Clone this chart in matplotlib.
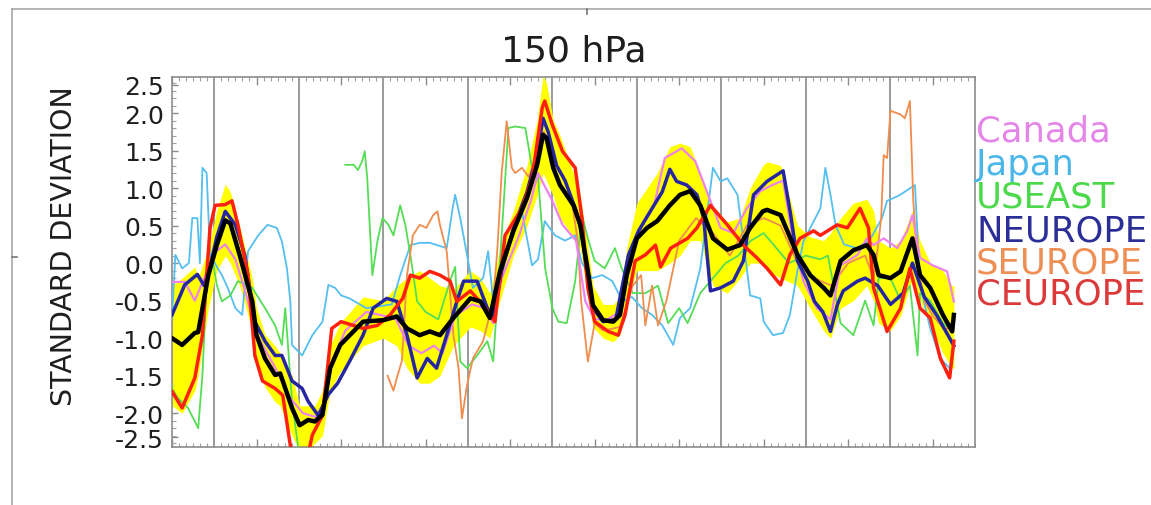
import numpy as np
import matplotlib
matplotlib.use("Agg")
import matplotlib.pyplot as plt
from matplotlib.ticker import MultipleLocator, NullFormatter
from matplotlib.lines import Line2D

plt.rcParams['font.family'] = ['DejaVu Sans']
plt.rcParams['axes.unicode_minus'] = False

# ---------------- data (time in years from start, values in standard deviations) ----------
t_mean = [0, 0.12, 0.27, 0.31, 0.43, 0.53, 0.63, 0.69, 0.80, 0.95, 1.0, 1.1, 1.22, 1.28, 1.42,
          1.51, 1.61, 1.69, 1.78, 1.87, 1.99, 2.26, 2.5, 2.66, 2.78, 2.93, 3.05, 3.17, 3.33, 3.53,
          3.65, 3.76, 3.88, 4.04, 4.2, 4.32, 4.39, 4.43, 4.51, 4.59, 4.75, 4.83, 4.91, 4.98, 5.1,
          5.22, 5.3, 5.38, 5.5, 5.62, 5.74, 5.89, 6.01, 6.13, 6.25, 6.4, 6.57, 6.72, 6.84, 6.99,
          7.04, 7.2, 7.4, 7.55, 7.71, 7.79, 7.91, 8.06, 8.22, 8.3, 8.36, 8.5, 8.62, 8.76, 8.85,
          8.97, 9.12, 9.23, 9.25]
mean = [-1.0, -1.09, -0.93, -0.92, -0.16, 0.24, 0.57, 0.53, 0.11, -0.51, -0.96, -1.27, -1.49,
        -1.47, -1.93, -2.16, -2.09, -2.11, -2.02, -1.40, -1.09, -0.78, -0.76, -0.71, -0.87, -0.96,
        -0.91, -0.96, -0.73, -0.47, -0.51, -0.73, -0.11, 0.43, 0.87, 1.31, 1.71, 1.67, 1.27, 1.04,
        0.77, 0.51, -0.03, -0.56, -0.76, -0.78, -0.69, -0.16, 0.33, 0.47, 0.56, 0.77, 0.91, 0.96,
        0.77, 0.33, 0.18, 0.24, 0.47, 0.69, 0.71, 0.64, 0.11, -0.16, -0.33, -0.43, 0.03, 0.17,
        0.24, 0.11, -0.16, -0.2, -0.11, 0.33, -0.16, -0.33, -0.69, -0.91, -0.69]
band_upper = [-0.3, -0.2, -0.05, -0.2, 0.2, 0.7, 1.05, 0.95, 0.5, -0.2, -0.6, -0.95, -1.1, -1.2,
              -1.5, -1.9, -1.9, -1.9, -1.7, -1.1, -0.8, -0.45, -0.5, -0.3, -0.2, -0.1, -0.2, -0.3,
              -0.35, -0.1, -0.2, -0.4, 0.2, 0.7, 1.3, 1.9, 2.5, 2.4, 1.9, 1.7, 1.2, 0.9, 0.3, -0.3,
              -0.55, -0.55, -0.45, 0.2, 0.8, 1.0, 1.2, 1.55, 1.6, 1.55, 1.2, 0.75, 0.55, 0.6, 1.0,
              1.3, 1.35, 1.3, 0.5, 0.35, 0.3, 0.4, 0.6, 0.8, 0.85, 0.7, 0.3, 0.2, 0.3, 0.7, 0.3,
              0.0, -0.1, -0.3, -0.3]
band_lower = [-1.9, -2.0, -1.7, -1.5, -0.6, -0.1, 0.1, 0.0, -0.3, -0.9, -1.3, -1.65, -1.85, -1.9,
              -2.3, -2.5, -2.5, -2.4, -2.3, -1.7, -1.45, -1.1, -1.0, -1.1, -1.4, -1.6, -1.6, -1.5,
              -1.1, -0.85, -0.9, -1.0, -0.5, 0.1, 0.5, 0.9, 1.2, 1.1, 0.9, 0.6, 0.35, 0.2, -0.4,
              -0.85, -1.0, -1.05, -0.95, -0.5, -0.1, -0.1, -0.1, 0.0, 0.1, 0.3, 0.3, -0.3, -0.4,
              -0.2, 0.0, 0.0, -0.1, -0.2, -0.3, -0.6, -0.9, -1.0, -0.6, -0.5, -0.3, -0.5, -0.8,
              -0.9, -0.7, -0.2, -0.5, -0.8, -1.2, -1.4, -1.4]

t_canada = [0, 0.15, 0.27, 0.4, 0.51, 0.63, 0.75, 0.86, 1.0, 1.2, 1.4, 1.55, 1.7, 1.8, 1.9, 2.05,
            2.3, 2.5, 2.65, 2.8, 2.95, 3.1, 3.2, 3.35, 3.55, 3.7, 3.8, 3.9, 4.1, 4.25, 4.33, 4.5,
            4.62, 4.78, 4.89, 5.0, 5.15, 5.3, 5.38, 5.5, 5.6, 5.7, 5.83, 6.03, 6.19, 6.37, 6.49,
            6.64, 6.8, 6.96, 7.1, 7.23, 7.35, 7.47, 7.63, 7.79, 7.91, 8.11, 8.22, 8.3, 8.42, 8.58,
            8.7, 8.76, 8.85, 9.0, 9.17, 9.25]
canada = [-0.25, -0.25, -0.5, -0.15, 0.15, 0.25, 0.05, -0.35, -0.95, -1.35, -1.8, -2.0, -2.05,
          -1.9, -1.3, -0.9, -0.65, -0.7, -0.75, -1.1, -1.2, -1.1, -1.2, -0.7, -0.55, -0.6, -0.8,
          -0.2, 0.35, 0.85, 1.2, 0.83, 0.51, 0.3, -0.51, -0.75, -0.75, -0.65, -0.2, 0.35, 0.6,
          0.75, 1.4, 1.53, 1.36, 0.83, 0.47, 0.4, 0.73, 0.96, 1.04, 1.1, 0.29, -0.24, -0.6, -0.75,
          -0.03, 0.11, 0.33, 0.24, 0.33, 0.2, 0.43, 0.64, 0.07, -0.03, -0.11, -0.51]

t_japan = [0, 0.04, 0.12, 0.2, 0.24, 0.3, 0.33, 0.36, 0.41, 0.45, 0.49, 0.59, 0.66, 0.75, 0.83,
           0.9, 1.02, 1.13, 1.24, 1.3, 1.36, 1.4, 1.42, 1.54, 1.66, 1.78, 1.85, 1.93, 2.0, 2.1,
           2.3, 2.6, 2.7, 2.82, 2.93, 3.05, 3.25, 3.32, 3.35, 3.41, 3.49, 3.56, 3.68, 3.74, 3.8,
           3.95, 4.06, 4.14, 4.26, 4.33, 4.41, 4.53, 4.65, 4.77, 4.85, 4.97, 5.09, 5.21, 5.33,
           5.44, 5.56, 5.68, 5.8, 5.93, 6.01, 6.13, 6.25, 6.4, 6.49, 6.57, 6.69, 6.76, 6.84, 6.96,
           7.0, 7.11, 7.23, 7.31, 7.4, 7.47, 7.67, 7.73, 7.79, 7.85, 7.95, 8.1, 8.25, 8.4, 8.46,
           8.6, 8.79, 8.85, 8.97, 9.09, 9.2, 9.25]
japan = [-0.73, 0.11, -0.07, 0.0, 0.6, 0.6, 0.0, 1.27, 1.2, 0.11, 0.03, -0.16, -0.33, -0.6, -0.69,
         0.16, 0.37, 0.51, 0.47, 0.29, -0.07, -0.51, -1.09, -1.23, -0.96, -0.78, -0.29, -0.33,
         -0.43, -0.47, -0.6, -0.55, -0.16, 0.24, 0.27, 0.27, 0.2, 0.73, 0.91, 0.6, 0.11, -0.33,
         -0.2, 0.16, -0.51, 0.1, 0.6, 0.69, -0.03, 0.05, 0.56, 0.37, 0.3, 0.37, 0.0, -0.2, -0.16,
         -0.24, -0.51, -0.45, -0.6, -0.69, -0.83, -1.09, -0.73, -0.6, -0.07, 1.27, 1.09, 1.13,
         0.91, 0.29, -0.43, -0.47, -0.78, -0.96, -0.93, -0.69, -0.1, 0.29, 0.73, 1.27, 0.91, 0.51,
         0.25, 0.2, 0.3, 0.6, 0.83, 0.9, 1.04, -0.29, -0.87, -1.27, -1.4, -1.1]

t_useast = [0, 0.07, 0.19, 0.31, 0.36, 0.41, 0.47, 0.53, 0.59, 0.69, 0.78, 0.95, 1.1, 1.22, 1.3,
            1.34, 1.42, 1.49, 1.52, 1.53, 2.05, 2.15, 2.2, 2.25, 2.28, 2.31, 2.37, 2.43, 2.49,
            2.56, 2.62, 2.7, 2.76, 2.82, 2.9, 3.0, 3.15, 3.3, 3.35, 3.41, 3.49, 3.61, 3.73, 3.8,
            3.9, 3.98, 4.06, 4.18, 4.26, 4.33, 4.415, 4.5, 4.57, 4.67, 4.77, 4.85, 4.92, 5.0,
            5.12, 5.24, 5.32, 5.45, 5.6, 5.75, 5.87, 6.0, 6.1, 6.25, 6.4, 6.55, 6.7, 6.85, 7.0,
            7.15, 7.3, 7.5, 7.67, 7.76, 7.91, 8.06, 8.2, 8.3, 8.36, 8.5, 8.62, 8.73, 8.82, 8.85,
            8.97, 9.12, 9.23]
useast = [-1.67, -1.8, -1.93, -2.2, -1.49, -0.24, 0.11, -0.29, -0.51, -0.43, -0.24, -0.33, -0.6,
          -0.83, -1.09, -0.6, -1.84, -2.43, -2.7, np.nan, 1.31, 1.31, 1.24, 1.36, 1.49, 1.13,
          -0.16, 0.29, 0.6, 0.51, 0.37, 0.77, 0.51, 0.11, -0.51, -0.65, -0.75, -0.2, -0.05, -1.31,
          -1.4, -1.23, -1.04, -1.31, 0.37, 1.8, 1.82, 1.8, 1.27, 1.15, -0.07, -0.6, -0.78, -0.8,
          -0.24, 0.64, 0.33, 0.03, -0.07, 0.2, -0.07, -0.4, -0.4, -0.3, -0.8, -0.6, -0.8, -0.4,
          -0.2, 0.0, 0.1, 0.3, 0.4, 0.2, 0.0, 0.1, 0.05, 0.1, -0.8, -0.96, -0.5, -0.83, -0.2,
          -0.2, -0.5, -0.3, -1.23, -0.4, -0.5, -0.8, -0.9]

t_neurope = [0, 0.15, 0.3, 0.38, 0.45, 0.53, 0.63, 0.75, 0.86, 0.98, 1.1, 1.22, 1.3, 1.42, 1.54,
             1.61, 1.73, 1.85, 1.96, 2.1, 2.26, 2.38, 2.54, 2.66, 2.78, 2.9, 3.02, 3.13, 3.25,
             3.37, 3.45, 3.61, 3.73, 3.8, 3.9, 4.05, 4.2, 4.32, 4.39, 4.45, 4.55, 4.65, 4.78,
             4.85, 4.9, 4.98, 5.1, 5.25, 5.4, 5.52, 5.68, 5.8, 5.89, 5.97, 6.09, 6.21, 6.29, 6.37,
             6.49, 6.64, 6.76, 6.88, 7.04, 7.23, 7.32, 7.4, 7.52, 7.6, 7.7, 7.79, 7.87, 7.94, 8.11,
             8.2, 8.35, 8.5, 8.65, 8.76, 8.9, 9.05, 9.25]
neurope = [-0.69, -0.29, -0.15, -0.3, -0.05, 0.35, 0.69, 0.51, 0.11, -0.78, -1.04, -1.23, -1.23,
           -1.57, -1.67, -1.84, -2.03, -1.75, -1.6, -1.31, -0.96, -0.6, -0.47, -0.51, -0.96,
           -1.53, -1.27, -1.4, -0.96, -0.51, -0.24, -0.24, -0.6, -0.73, -0.1, 0.5, 0.95, 1.45,
           1.93, 1.75, 1.3, 1.1, 0.7, 0.4, -0.07, -0.6, -0.78, -0.75, 0.11, 0.43, 0.73, 0.95,
           1.25, 1.09, 1.04, 0.91, 0.6, -0.37, -0.33, -0.24, 0.03, 0.91, 1.09, 1.23, 0.64, 0.03,
           -0.24, -0.51, -0.65, -0.91, -0.56, -0.37, -0.24, -0.2, -0.3, -0.55, -0.4, 0.0, -0.45,
           -0.7, -1.1]

t_seurope = [2.55, 2.62, 2.66, 2.72, 2.78, 2.85, 2.93, 3.01, 3.09, 3.14, 3.17, 3.25, 3.33, 3.39,
             3.43, 3.49, 3.56, 3.68, 3.8, 3.85, 3.9, 3.96, 4.02, 4.06, 4.14, 4.22, 4.3, 4.4, 4.5,
             4.6, 4.72, 4.8, 4.84, 4.92, 5.0, 5.1, 5.3, 5.45, 5.55, 5.6, 5.68, 5.75, 5.85, 6.0,
             6.2, 6.4, 6.6, 6.8, 7.0, 7.2, 7.4, 7.6, 7.8, 8.0, 8.2, 8.3, 8.35, 8.39, 8.42, 8.46,
             8.5, 8.62, 8.67, 8.73, 8.77, 8.82, 8.9, 9.0, 9.15, 9.25]
seurope = [-1.5, -1.7, -1.53, -1.3, -0.16, 0.37, 0.51, 0.47, 0.64, 0.69, 0.51, 0.16, -0.96, -1.4,
           -2.07, -1.63, -1.27, -1.04, -0.51, 0.2, 1.2, 1.89, 1.27, 1.2, 1.27, 1.15, 1.4, 1.75,
           1.4, 1.2, 0.9, 0.3, -0.5, -1.31, -0.8, -0.9, -0.85, -0.3, -0.16, -0.83, -0.3, -0.83,
           -0.5, 0.3, 0.6, 0.4, 0.1, 0.5, 0.6, 0.5, 0.0, -0.2, -0.3, 0.0, 0.1, -0.2, 0.2, 0.6,
           1.44, 1.4, 2.03, 1.98, 1.93, 2.16, 0.83, 0.0, -0.5, -0.7, -0.9, -0.75]

t_ceurope = [0, 0.12, 0.27, 0.36, 0.45, 0.51, 0.63, 0.71, 0.78, 0.9, 0.98, 1.07, 1.22, 1.31, 1.4,
             1.48, 1.58, 1.66, 1.78, 1.89, 2.0, 2.26, 2.43, 2.58, 2.73, 2.82, 2.93, 3.05, 3.17,
             3.29, 3.37, 3.53, 3.68, 3.82, 3.94, 4.14, 4.26, 4.38, 4.41, 4.5, 4.62, 4.77, 4.85,
             4.92, 5.0, 5.16, 5.28, 5.36, 5.48, 5.6, 5.72, 5.78, 5.9, 6.1, 6.21, 6.37, 6.57, 6.76,
             6.92, 7.04, 7.2, 7.31, 7.43, 7.59, 7.67, 7.87, 7.99, 8.14, 8.24, 8.3, 8.46, 8.62,
             8.73, 8.85, 8.97, 9.09, 9.2, 9.25]
ceurope = [-1.71, -1.93, -1.53, -0.96, 0.47, 0.77, 0.78, 0.83, 0.51, -0.16, -1.23, -1.57, -1.67,
           -1.76, -2.43, -2.8, -2.7, -2.29, -2.03, -0.87, -0.78, -0.87, -0.83, -0.69, -0.47,
           -0.16, -0.2, -0.11, -0.16, -0.24, -0.51, -0.37, -0.56, -0.78, 0.37, 0.73, 1.13, 2.07,
           2.16, 1.84, 1.49, 1.27, 0.6, -0.33, -0.78, -0.91, -0.96, -0.69, 0.03, 0.11, 0.24,
           -0.05, 0.2, 0.33, 0.47, 0.77, 0.51, 0.24, 0.07, -0.07, -0.29, 0.11, 0.33, 0.43, 0.37,
           0.51, 0.47, 0.73, 0.47, -0.33, -0.91, -0.6, -0.07, -0.6, -0.73, -1.27, -1.53, -1.04]

section_bounds = [0.5, 1.5, 2.5, 3.5, 4.5, 5.5, 6.5, 7.5, 8.5]
y_tick_labels = ['2.5', '2.0', '1.5', '1.0', '0.5', '0.0', '-0.5', '-1.0', '-1.5', '-2.0', '-2.5']

series_names = ['Canada', 'Japan', 'USEAST', 'NEUROPE', 'SEUROPE', 'CEUROPE']
series_colors = ['#EE82EE', '#55BFEF', '#55DD55', '#2626A0', '#F08C4C', '#FF2010']
label_colors = ['#E486E8', '#4BB7E8', '#4CD94C', '#2A2E96', '#EE8F55', '#DC3A3A']

# ---------------- figure ----------------
W, H = 1151, 506
fig = plt.figure(figsize=(W / 100, H / 100), dpi=100)
fig.patch.set_facecolor('white')

# outer frame (partially visible box)
frame_col = '#A8A8A8'
fig.add_artist(Line2D([12 / W, 1.0], [1 - 10 / H, 1 - 10 / H], transform=fig.transFigure,
                      color=frame_col, lw=1.2))
fig.add_artist(Line2D([12 / W, 12 / W], [1 - 10 / H, 0.0], transform=fig.transFigure,
                      color=frame_col, lw=1.2))
fig.add_artist(Line2D([12 / W, 17 / W], [1 - 258 / H, 1 - 258 / H], transform=fig.transFigure,
                      color='#777777', lw=1.2))
fig.add_artist(Line2D([587 / W, 587 / W], [1 - 10 / H, 1 - 15 / H], transform=fig.transFigure,
                      color='#777777', lw=1.2))

ax = fig.add_axes([172 / W, 1 - 448 / H, (975 - 172) / W, (448 - 78) / H])
ax.set_xlim(0, 9.5)
y_lo, y_hi = -2.45, 2.48
ax.set_ylim(y_lo, y_hi)

for xb in section_bounds:
    ax.axvline(xb, color='#9A9A9A', lw=1.4, zorder=1)

ax.fill_between(t_mean, band_lower, band_upper, color='#FFFF00', lw=0, zorder=2)

widths = {'Canada': 1.6, 'Japan': 1.3, 'USEAST': 1.3, 'NEUROPE': 2.5, 'SEUROPE': 1.3,
          'CEUROPE': 2.5}
data = {'Canada': (t_canada, canada), 'Japan': (t_japan, japan), 'USEAST': (t_useast, useast),
        'NEUROPE': (t_neurope, neurope), 'SEUROPE': (t_seurope, seurope),
        'CEUROPE': (t_ceurope, ceurope)}
order = ['Japan', 'USEAST', 'SEUROPE', 'Canada', 'NEUROPE', 'CEUROPE']
for z, name in enumerate(order):
    i = series_names.index(name)
    tx, vy = data[name]
    ax.plot(tx, vy, color=series_colors[i], lw=widths[name], zorder=3 + z,
            solid_joinstyle='round')

ax.plot(t_mean, mean, color='black', lw=3.2, zorder=20, solid_joinstyle='round')

for sp in ax.spines.values():
    sp.set_color('#8C8C8C')
    sp.set_linewidth(1.2)

# tick labels: the end labels sit just inside the axis limits, as in the original plot
tick_vals = [float(s) for s in y_tick_labels]
tick_pos = [min(max(v, y_lo + 0.13), y_hi - 0.1) for v in tick_vals]
ax.set_yticks(tick_pos)
ax.set_yticklabels(y_tick_labels)
ax.yaxis.set_minor_locator(MultipleLocator(0.1))
ax.xaxis.set_major_locator(MultipleLocator(1.0))
ax.xaxis.set_minor_locator(MultipleLocator(1 / 12))
ax.xaxis.set_major_formatter(NullFormatter())
ax.tick_params(axis='y', which='major', direction='in', length=4, width=1, color='#8C8C8C',
               labelsize=18, pad=6, left=True, right=False)
ax.tick_params(axis='y', which='minor', direction='in', length=3, width=0.8, color='#A0A0A0',
               left=True, right=False)
ax.tick_params(axis='x', which='major', direction='in', length=6, width=1, color='#8C8C8C',
               top=True, bottom=True, labelbottom=False)
ax.tick_params(axis='x', which='minor', direction='in', length=3, width=0.8, color='#A0A0A0',
               top=True, bottom=True)
for lab in ax.get_yticklabels():
    lab.set_color('#1E1E1E')

fig.text(574 / W, 1 - 61 / H, '150 hPa', ha='center', va='baseline', fontsize=26,
         color='#1E1E1E')
fig.text(64 / W, 1 - 246 / H, 'STANDARD DEVIATION', rotation=90, ha='center', va='center',
         fontsize=20.5, color='#1E1E1E')

baselines = [142, 175, 208, 241, 273, 305]
for name, col, yb in zip(series_names, label_colors, baselines):
    fig.text(976 / W, 1 - yb / H, name, ha='left', va='baseline', fontsize=25.5, color=col)

fig.savefig('out.png', dpi=100, facecolor='white')
